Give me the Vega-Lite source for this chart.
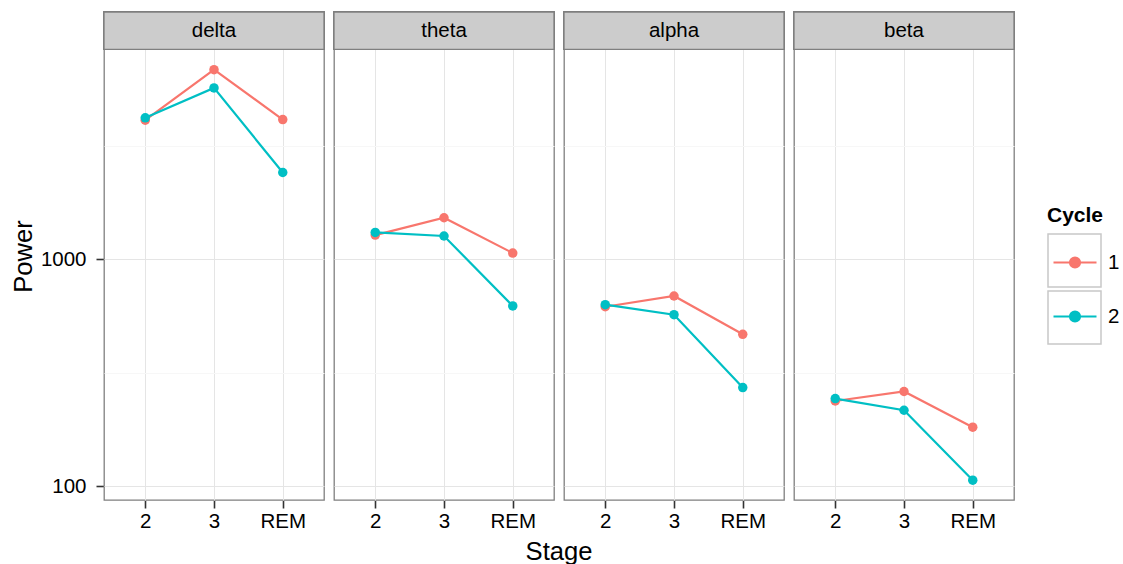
{
  "$schema": "https://vega.github.io/schema/vega-lite/v6.json",
  "background": "white",
  "padding": {"left": 11, "top": 10, "right": 5, "bottom": 5},
  "spacing": {"column": 10},
  "bounds": "flush",
  "config": {
    "font": "Liberation Sans",
    "view": {"stroke": "#7f7f7f", "strokeWidth": 1.3}
  },
  "data": {
    "values": [
      {"Band": "delta", "Stage": "2", "Cycle": 1, "Power": 4105},
      {"Band": "delta", "Stage": "3", "Cycle": 1, "Power": 6852},
      {"Band": "delta", "Stage": "REM", "Cycle": 1, "Power": 4130},
      {"Band": "delta", "Stage": "2", "Cycle": 2, "Power": 4202},
      {"Band": "delta", "Stage": "3", "Cycle": 2, "Power": 5693},
      {"Band": "delta", "Stage": "REM", "Cycle": 2, "Power": 2414},
      {"Band": "theta", "Stage": "2", "Cycle": 1, "Power": 1280},
      {"Band": "theta", "Stage": "3", "Cycle": 1, "Power": 1526},
      {"Band": "theta", "Stage": "REM", "Cycle": 1, "Power": 1067},
      {"Band": "theta", "Stage": "2", "Cycle": 2, "Power": 1315},
      {"Band": "theta", "Stage": "3", "Cycle": 2, "Power": 1268},
      {"Band": "theta", "Stage": "REM", "Cycle": 2, "Power": 624},
      {"Band": "alpha", "Stage": "2", "Cycle": 1, "Power": 619},
      {"Band": "alpha", "Stage": "3", "Cycle": 1, "Power": 690},
      {"Band": "alpha", "Stage": "REM", "Cycle": 1, "Power": 468},
      {"Band": "alpha", "Stage": "2", "Cycle": 2, "Power": 632},
      {"Band": "alpha", "Stage": "3", "Cycle": 2, "Power": 571},
      {"Band": "alpha", "Stage": "REM", "Cycle": 2, "Power": 272.6},
      {"Band": "beta", "Stage": "2", "Cycle": 1, "Power": 238},
      {"Band": "beta", "Stage": "3", "Cycle": 1, "Power": 262},
      {"Band": "beta", "Stage": "REM", "Cycle": 1, "Power": 182.4},
      {"Band": "beta", "Stage": "2", "Cycle": 2, "Power": 243.8},
      {"Band": "beta", "Stage": "3", "Cycle": 2, "Power": 216.7},
      {"Band": "beta", "Stage": "REM", "Cycle": 2, "Power": 106.6}
    ]
  },
  "facet": {
    "column": {
      "field": "Band",
      "type": "nominal",
      "sort": ["delta", "theta", "alpha", "beta"],
      "title": "Stage",
      "header": {
        "labels": false,
        "titleOrient": "bottom",
        "titleFontSize": 25.6,
        "titleFontWeight": "normal",
        "titleColor": "black",
        "titleFont": "Liberation Sans",
        "titlePadding": -2
      }
    }
  },
  "spec": {
    "width": 220,
    "height": 488,
    "layer": [
      {
        "mark": {"type": "line", "strokeWidth": 2.2},
        "encoding": {
          "x": {
            "field": "Stage", "type": "ordinal",
            "scale": {"type": "point", "padding": 0.6},
            "axis": {
              "title": null, "domain": false,
              "labelFontSize": 20.5, "labelColor": "black", "labelAngle": 0,
              "labelPadding": 3, "tickSize": 8, "tickWidth": 1.6, "tickColor": "#333333",
              "grid": true, "gridColor": "#e5e5e5", "gridWidth": 1
            }
          },
          "y": {
            "field": "Power", "type": "quantitative",
            "scale": {"type": "log", "domain": [87.2, 12293], "nice": false},
            "axis": {
              "title": "Power", "titleFontSize": 25.6, "titleFontWeight": "normal", "titleColor": "black",
              "titlePadding": 4,
              "domain": false,
              "values": [100, 316.2278, 1000, 3162.278],
              "labelExpr": "(datum.value == 100 || datum.value == 1000) ? format(datum.value, 'd') : ''",
              "labelFontSize": 20.5, "labelColor": "black", "labelPadding": 10,
              "tickSize": 8, "tickWidth": 1.6, "tickColor": "#333333",
              "tickOpacity": {"condition": {"test": "datum.value == 100 || datum.value == 1000", "value": 1}, "value": 0},
              "grid": true,
              "gridColor": {"condition": {"test": "datum.value == 100 || datum.value == 1000", "value": "#e5e5e5"}, "value": "#f7f7f7"},
              "gridWidth": 1
            }
          },
          "color": {
            "field": "Cycle", "type": "nominal",
            "scale": {"range": ["#F8766D", "#00BFC4"]},
            "legend": {
              "title": "Cycle",
              "orient": "none",
              "legendX": 943,
              "legendY": 193,
              "titleFontSize": 21,
              "titleFontWeight": "bold",
              "titleColor": "black",
              "titlePadding": 13.5,
              "labelFontSize": 20.5,
              "labelColor": "black",
              "labelOffset": 10,
              "symbolType": "M-1,0L1,0M-0.2326,0A0.2326,0.2326,0,1,1,0.2326,0A0.2326,0.2326,0,1,1,-0.2326,0Z",
              "symbolSize": 1849,
              "symbolStrokeWidth": 2.2,
              "symbolOffset": 5,
              "rowPadding": 20,
              "encode": {
                "symbols": {
                  "update": {
                    "fill": {"scale": "color", "field": "value"},
                    "stroke": {"scale": "color", "field": "value"},
                    "opacity": {"value": 1}
                  }
                }
              }
            }
          }
        }
      },
      {
        "mark": {"type": "circle", "size": 90},
        "encoding": {
          "x": {"field": "Stage", "type": "ordinal"},
          "y": {"field": "Power", "type": "quantitative"},
          "color": {"field": "Cycle", "type": "nominal"},
          "opacity": {
            "field": "Cycle", "type": "nominal",
            "scale": {"domain": [1, 2], "range": [1, 1]},
            "legend": {
              "title": "Cycle",
              "orient": "none",
              "legendX": 943,
              "legendY": 193,
              "titleFontSize": 21,
              "titleFontWeight": "bold",
              "titleOpacity": 0,
              "titlePadding": 7,
              "labelFontSize": 20.5,
              "labelExpr": "''",
              "labelOffset": 0,
              "symbolType": "square",
              "symbolSize": 2809,
              "symbolFillColor": "transparent",
              "symbolStrokeColor": "#c8c8c8",
              "symbolStrokeWidth": 1.5,
              "symbolOffset": 0,
              "rowPadding": -8,
              "encode": {
                "symbols": {
                  "update": {
                    "fill": {"value": "transparent"},
                    "stroke": {"value": "#c8c8c8"},
                    "opacity": {"value": 1}
                  }
                }
              }
            }
          }
        }
      },
      {
        "mark": {"type": "rect", "fill": "#cccccc", "stroke": "#7f7f7f", "strokeWidth": 1.3},
        "encoding": {
          "y": {"datum": 8411, "type": "quantitative"},
          "y2": {"datum": 12293}
        }
      },
      {
        "transform": [{"filter": "datum.Stage === '2' && datum.Cycle === 1"}],
        "mark": {"type": "text", "fontSize": 20.5, "color": "black", "baseline": "middle", "align": "center"},
        "encoding": {
          "y": {"datum": 10168, "type": "quantitative"},
          "text": {"field": "Band", "type": "nominal"}
        }
      }
    ]
  }
}
